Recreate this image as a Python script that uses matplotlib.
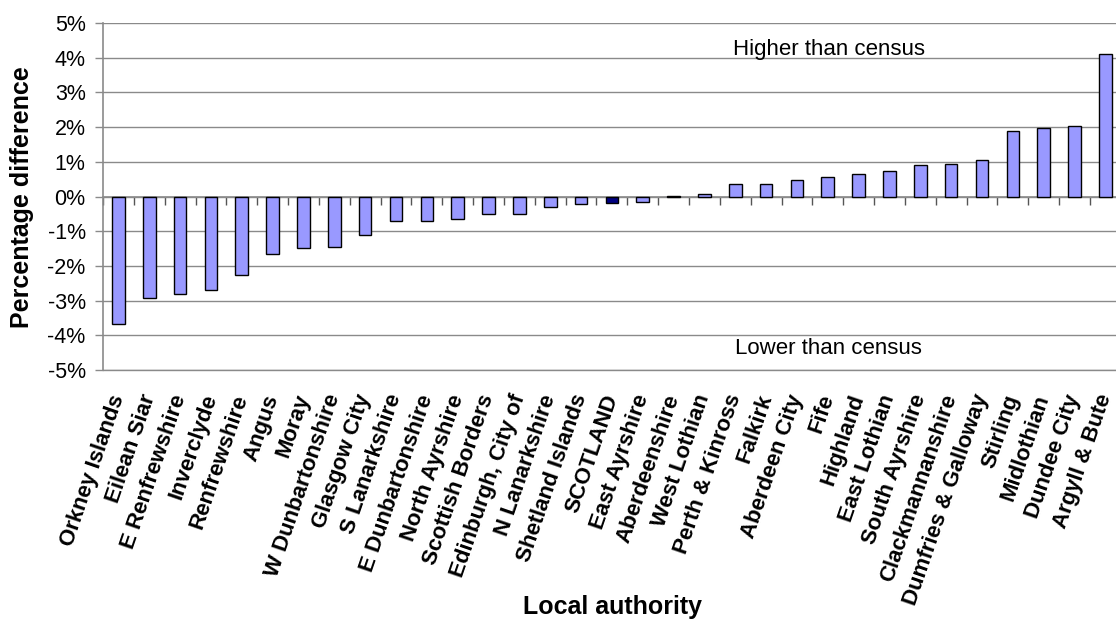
import numpy as np
import matplotlib
matplotlib.use("Agg")
import matplotlib.pyplot as plt
from matplotlib.ticker import FuncFormatter

plt.rcParams["font.family"] = ["Liberation Sans", "DejaVu Sans"]

# Local authorities, ordered from lowest to highest difference
authorities = [
    "Orkney Islands", "Eilean Siar", "E Renfrewshire", "Inverclyde",
    "Renfrewshire", "Angus", "Moray", "W Dunbartonshire", "Glasgow City",
    "S Lanarkshire", "E Dunbartonshire", "North Ayrshire", "Scottish Borders",
    "Edinburgh, City of", "N Lanarkshire", "Shetland Islands", "SCOTLAND",
    "East Ayrshire", "Aberdeenshire", "West Lothian", "Perth & Kinross",
    "Falkirk", "Aberdeen City", "Fife", "Highland", "East Lothian",
    "South Ayrshire", "Clackmannanshire", "Dumfries & Galloway", "Stirling",
    "Midlothian", "Dundee City", "Argyll & Bute",
]

# Percentage difference from the census
pct_diff = [
    -3.66, -2.93, -2.81, -2.69, -2.26, -1.65, -1.47, -1.45, -1.10,
    -0.71, -0.71, -0.66, -0.51, -0.49, -0.29, -0.22, -0.20,
    -0.15, 0.02, 0.07, 0.36, 0.37, 0.47, 0.55, 0.65, 0.74,
    0.90, 0.95, 1.05, 1.90, 1.98, 2.04, 4.12,
]

y_ticks = [-5, -4, -3, -2, -1, 0, 1, 2, 3, 4, 5]
national_label = "SCOTLAND"

bar_color = "#9999FF"
national_color = "#000080"
grey = "#8a8a8a"

fig = plt.figure(figsize=(11.16, 6.23), dpi=100)
ax = fig.add_axes([0.0923, 0.406, 0.912, 0.557])

x = np.arange(len(authorities))
colors = [national_color if a == national_label else bar_color for a in authorities]
ax.bar(x, pct_diff, width=0.41, color=colors, edgecolor="black",
       linewidth=1.0, zorder=3)

ax.set_xlim(-0.5, len(authorities) - 0.5)
ax.set_ylim(min(y_ticks), max(y_ticks))
ax.set_yticks(y_ticks)
ax.yaxis.set_major_formatter(FuncFormatter(lambda v, _: f"{v:.0f}%"))
ax.tick_params(axis="y", length=6, width=1, color=grey, pad=6.5,
               labelsize=15.5, labelcolor="black")

ax.grid(axis="y", color=grey, linewidth=1.0, zorder=0)
ax.set_axisbelow(True)

for side in ("top", "right"):
    ax.spines[side].set_visible(False)
ax.spines["left"].set_color(grey)
ax.spines["left"].set_linewidth(1.2)

# Category axis crosses at zero, with tick marks between the bars
ax.spines["bottom"].set_position(("data", 0))
ax.spines["bottom"].set_color(grey)
ax.spines["bottom"].set_linewidth(1.2)
ax.set_xticks(np.arange(len(authorities) + 1) - 0.5)
ax.set_xticklabels([])
ax.tick_params(axis="x", direction="out", length=6, width=1, color="#555555")

# Category names sit below the plot area
sec = ax.secondary_xaxis("bottom")
sec.set_xticks(x, labels=authorities, rotation=71, ha="right", va="center",
               rotation_mode="anchor", fontweight="bold", fontsize=16)
sec.tick_params(length=0, pad=18)
sec.spines["bottom"].set_color(grey)
sec.spines["bottom"].set_linewidth(1.0)

ax.text(19.93, 4.09, "Higher than census", fontsize=16, va="baseline", ha="left")
ax.text(19.99, -4.55, "Lower than census", fontsize=16, va="baseline", ha="left")

fig.text(0.0197, 0.684, "Percentage difference", rotation=90, fontsize=18,
         fontweight="bold", ha="center", va="center")
fig.text(0.549, 0.026, "Local authority", fontsize=18, fontweight="bold",
         ha="center", va="center")

fig.savefig("out.png", dpi=100)
